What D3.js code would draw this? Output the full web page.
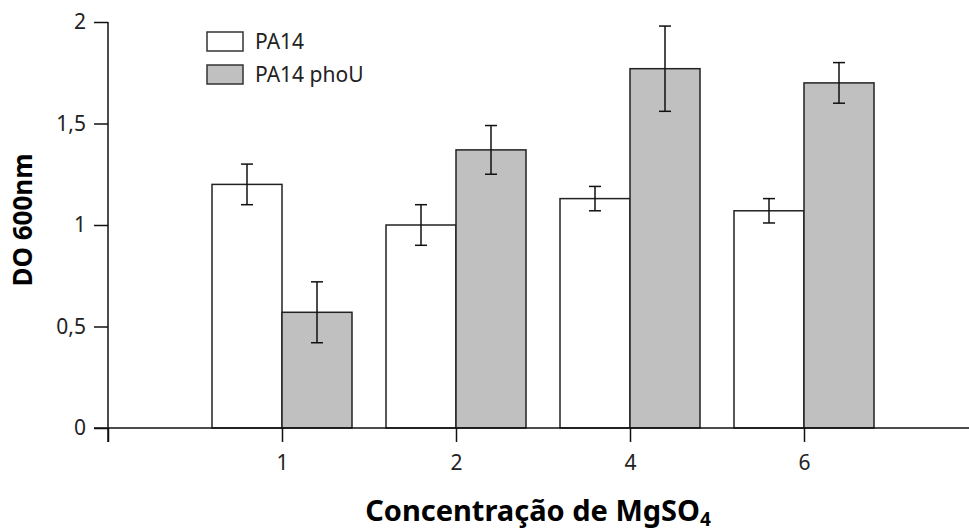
<!DOCTYPE html>
<html>
<head>
<meta charset="utf-8">
<script src="https://cdn.jsdelivr.net/npm/d3@7"></script>
<style>
  body { margin: 0; background: #fff; }
  svg { display: block; font-family: "Noto Sans", "Open Sans", sans-serif; }
</style>
</head>
<body>
<div id="chart"></div>
<script>
// Data
const concentrations = ["1", "2", "4", "6"];
const seriesNames = ["PA14", "PA14 phoU"];
const pa14Values = [1.20, 1.00, 1.13, 1.07];
const pa14Errors = [0.10, 0.10, 0.06, 0.06];
const phoUValues = [0.57, 1.37, 1.77, 1.70];
const phoUErrors = [0.15, 0.12, 0.21, 0.10];
const yTicks = [0, 0.5, 1, 1.5, 2];

const width = 969, height = 531;
const fills = ["#ffffff", "#c0c0c0"];

const svg = d3.select("#chart").append("svg")
    .attr("width", width)
    .attr("height", height);

// x positions: one empty slot on the left, groups centred on each tick
const x = d3.scalePoint()
    .domain(["", ...concentrations, " "])
    .range([108, 978]);
const barW = 70;

const y = d3.scaleLinear()
    .domain([0, 2])
    .range([428, 22]);

// rows for the bars
const rows = [];
concentrations.forEach((c, i) => {
    rows.push({ c, s: 0, v: pa14Values[i], e: pa14Errors[i] });
    rows.push({ c, s: 1, v: phoUValues[i], e: phoUErrors[i] });
});

// bars
svg.append("g").selectAll("rect")
    .data(rows)
    .join("rect")
    .attr("x", d => x(d.c) - (d.s === 0 ? barW : 0))
    .attr("y", d => y(d.v))
    .attr("width", barW)
    .attr("height", d => y(0) - y(d.v))
    .attr("fill", d => fills[d.s])
    .attr("stroke", "#222")
    .attr("stroke-width", 1.5);

// error bars
const err = svg.append("g").attr("stroke", "#111").attr("stroke-width", 1.5);
rows.forEach(d => {
    const cx = x(d.c) + (d.s === 0 ? -barW / 2 : barW / 2);
    err.append("line")
        .attr("x1", cx).attr("x2", cx)
        .attr("y1", y(d.v + d.e)).attr("y2", y(d.v - d.e));
    [d.v + d.e, d.v - d.e].forEach(v => {
        err.append("line")
            .attr("x1", cx - 6).attr("x2", cx + 6)
            .attr("y1", y(v)).attr("y2", y(v));
    });
});

// y axis
const yAxis = svg.append("g")
    .attr("transform", "translate(108,0)")
    .call(d3.axisLeft(y)
        .tickValues(yTicks)
        .tickSize(14)
        .tickSizeOuter(0)
        .tickPadding(8)
        .tickFormat(d => String(d).replace(".", ",")));
yAxis.select(".domain").remove();
yAxis.append("line")
    .attr("x1", 0).attr("x2", 0)
    .attr("y1", y(2)).attr("y2", y(0) + 14)
    .attr("stroke", "#111").attr("stroke-width", 1.5);

// x axis
const xAxis = svg.append("g")
    .attr("transform", `translate(0,${y(0)})`)
    .call(d3.axisBottom(x)
        .tickValues(["", ...concentrations])
        .tickSize(14)
        .tickPadding(13));
xAxis.select(".domain").remove();
xAxis.append("line")
    .attr("x1", 94).attr("x2", width)
    .attr("y1", 0).attr("y2", 0)
    .attr("stroke", "#111").attr("stroke-width", 1.5);

svg.selectAll(".tick line").attr("stroke", "#111").attr("stroke-width", 1.5);
svg.selectAll(".tick text")
    .attr("fill", "#222")
    .style("font-size", "21px")
    .style("font-family", "'Noto Sans', 'Open Sans', sans-serif");

// axis titles
svg.append("text")
    .attr("transform", "translate(32,220) rotate(-90)")
    .attr("text-anchor", "middle")
    .style("font-size", "26px")
    .style("font-weight", "bold")
    .text("DO 600nm");

const xt = svg.append("text")
    .attr("x", 538)
    .attr("y", 521)
    .attr("text-anchor", "middle")
    .style("font-size", "29px")
    .style("font-weight", "bold");
xt.append("tspan").text("Concentração de MgSO");
xt.append("tspan").attr("dy", 5).style("font-size", "19px").text("4");

// legend
const legend = svg.append("g").attr("transform", "translate(207,32)");
seriesNames.forEach((name, i) => {
    const g = legend.append("g").attr("transform", `translate(0,${i * 33})`);
    g.append("rect")
        .attr("width", 36).attr("height", 19)
        .attr("fill", fills[i])
        .attr("stroke", "#333").attr("stroke-width", 1.5);
    g.append("text")
        .attr("x", 48).attr("y", 17)
        .attr("fill", "#222")
        .style("font-size", "21px")
        .text(name);
});
</script>
</body>
</html>
